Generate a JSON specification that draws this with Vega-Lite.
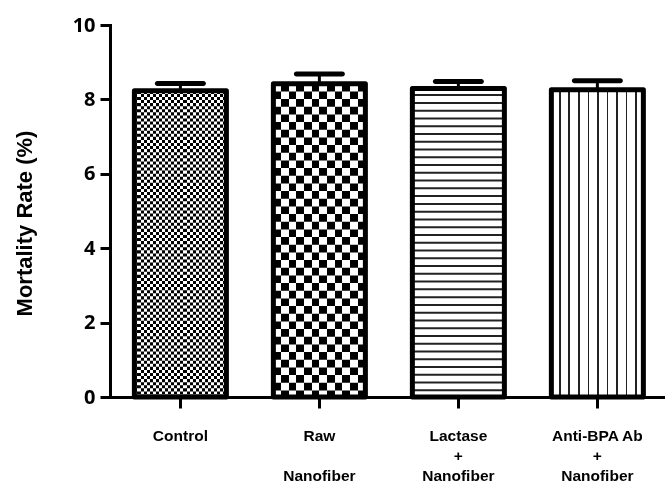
{
  "$schema": "https://vega.github.io/schema/vega-lite/v6.json",
  "width": 555,
  "height": 372,
  "autosize": {"type": "none"},
  "padding": {"left": 110, "top": 25, "right": 0, "bottom": 86},
  "background": "white",
  "config": {"view": {"stroke": null}},
  "data": {
    "values": [
      {"group": "Control", "mean": 8.23, "upper": 8.43},
      {"group": "Raw Nanofiber", "mean": 8.42, "upper": 8.68},
      {"group": "Lactase + Nanofiber", "mean": 8.29, "upper": 8.48},
      {"group": "Anti-BPA Ab + Nanofiber", "mean": 8.26, "upper": 8.5}
    ]
  },
  "encoding": {
    "x": {
      "field": "group",
      "type": "nominal",
      "sort": null,
      "scale": {"paddingInner": 0.338, "paddingOuter": 0.1655, "align": 0.53},
      "axis": {
        "title": null,
        "labelAngle": 0,
        "domainColor": "black",
        "domainWidth": 3,
        "tickColor": "black",
        "tickWidth": 3,
        "tickSize": 11,
        "labelFont": "Liberation Sans",
        "labelFontWeight": "bold",
        "labelFontSize": 15.5,
        "labelColor": "black",
        "labelPadding": 20,
        "labelLineHeight": 20,
        "labelExpr": "datum.value == 'Raw Nanofiber' ? ['Raw', '\u2800', 'Nanofiber'] : datum.value == 'Lactase + Nanofiber' ? ['Lactase', '+', 'Nanofiber'] : datum.value == 'Anti-BPA Ab + Nanofiber' ? ['Anti-BPA Ab', '+', 'Nanofiber'] : datum.value"
      }
    },
    "y": {
      "field": "mean",
      "type": "quantitative",
      "scale": {"domain": [0, 10], "nice": false},
      "axis": {
        "title": "Mortality Rate (%)",
        "titleFont": "Liberation Sans",
        "titleFontSize": 22,
        "titleFontWeight": "bold",
        "titleColor": "black",
        "titleX": -86,
        "titleY": 198,
        "titleBaseline": "middle",
        "titleAlign": "center",
        "values": [0, 2, 4, 6, 8, 10],
        "grid": false,
        "domainColor": "black",
        "domainWidth": 3,
        "domainCap": "square",
        "tickColor": "black",
        "tickWidth": 3,
        "tickSize": 10,
        "labelFont": "Open Sans",
        "labelFontWeight": "bold",
        "labelFontSize": 20,
        "labelColor": "black",
        "labelPadding": 5
      }
    }
  },
  "layer": [
    {"mark": {"type": "bar", "fill": "white"}},
    {
      "transform": [{"filter": "datum.group == 'Control'"}],
      "mark": {"type": "rule", "color": "black", "strokeWidth": 92, "strokeDash": [3.0667, 3.0667]},
      "encoding": {"y2": {"datum": 0}}
    },
    {
      "transform": [{"filter": "datum.group == 'Control'"}],
      "mark": {
        "type": "bar",
        "blend": "difference",
        "fill": {
          "gradient": "linear", "x1": 0, "y1": 0, "x2": 1, "y2": 0,
          "stops": [
            {"offset": 0, "color": "white"}, {"offset": 0.03333, "color": "white"}, {"offset": 0.03333, "color": "black"}, {"offset": 0.06667, "color": "black"},
            {"offset": 0.06667, "color": "white"}, {"offset": 0.1, "color": "white"}, {"offset": 0.1, "color": "black"}, {"offset": 0.13333, "color": "black"},
            {"offset": 0.13333, "color": "white"}, {"offset": 0.16667, "color": "white"}, {"offset": 0.16667, "color": "black"}, {"offset": 0.2, "color": "black"},
            {"offset": 0.2, "color": "white"}, {"offset": 0.23333, "color": "white"}, {"offset": 0.23333, "color": "black"}, {"offset": 0.26667, "color": "black"},
            {"offset": 0.26667, "color": "white"}, {"offset": 0.3, "color": "white"}, {"offset": 0.3, "color": "black"}, {"offset": 0.33333, "color": "black"},
            {"offset": 0.33333, "color": "white"}, {"offset": 0.36667, "color": "white"}, {"offset": 0.36667, "color": "black"}, {"offset": 0.4, "color": "black"},
            {"offset": 0.4, "color": "white"}, {"offset": 0.43333, "color": "white"}, {"offset": 0.43333, "color": "black"}, {"offset": 0.46667, "color": "black"},
            {"offset": 0.46667, "color": "white"}, {"offset": 0.5, "color": "white"}, {"offset": 0.5, "color": "black"}, {"offset": 0.53333, "color": "black"},
            {"offset": 0.53333, "color": "white"}, {"offset": 0.56667, "color": "white"}, {"offset": 0.56667, "color": "black"}, {"offset": 0.6, "color": "black"},
            {"offset": 0.6, "color": "white"}, {"offset": 0.63333, "color": "white"}, {"offset": 0.63333, "color": "black"}, {"offset": 0.66667, "color": "black"},
            {"offset": 0.66667, "color": "white"}, {"offset": 0.7, "color": "white"}, {"offset": 0.7, "color": "black"}, {"offset": 0.73333, "color": "black"},
            {"offset": 0.73333, "color": "white"}, {"offset": 0.76667, "color": "white"}, {"offset": 0.76667, "color": "black"}, {"offset": 0.8, "color": "black"},
            {"offset": 0.8, "color": "white"}, {"offset": 0.83333, "color": "white"}, {"offset": 0.83333, "color": "black"}, {"offset": 0.86667, "color": "black"},
            {"offset": 0.86667, "color": "white"}, {"offset": 0.9, "color": "white"}, {"offset": 0.9, "color": "black"}, {"offset": 0.93333, "color": "black"},
            {"offset": 0.93333, "color": "white"}, {"offset": 0.96667, "color": "white"}, {"offset": 0.96667, "color": "black"}, {"offset": 1, "color": "black"}
          ]
        }
      }
    },
    {
      "transform": [{"filter": "datum.group == 'Raw Nanofiber'"}],
      "mark": {"type": "rule", "color": "black", "strokeWidth": 92, "strokeDash": [7.667, 7.667]},
      "encoding": {"y2": {"datum": 0}}
    },
    {
      "transform": [{"filter": "datum.group == 'Raw Nanofiber'"}],
      "mark": {
        "type": "bar",
        "blend": "difference",
        "fill": {
          "gradient": "linear", "x1": 0, "y1": 0, "x2": 1, "y2": 0,
          "stops": [
            {"offset": 0, "color": "white"}, {"offset": 0.08333, "color": "white"}, {"offset": 0.08333, "color": "black"}, {"offset": 0.16667, "color": "black"},
            {"offset": 0.16667, "color": "white"}, {"offset": 0.25, "color": "white"}, {"offset": 0.25, "color": "black"}, {"offset": 0.33333, "color": "black"},
            {"offset": 0.33333, "color": "white"}, {"offset": 0.41667, "color": "white"}, {"offset": 0.41667, "color": "black"}, {"offset": 0.5, "color": "black"},
            {"offset": 0.5, "color": "white"}, {"offset": 0.58333, "color": "white"}, {"offset": 0.58333, "color": "black"}, {"offset": 0.66667, "color": "black"},
            {"offset": 0.66667, "color": "white"}, {"offset": 0.75, "color": "white"}, {"offset": 0.75, "color": "black"}, {"offset": 0.83333, "color": "black"},
            {"offset": 0.83333, "color": "white"}, {"offset": 0.91667, "color": "white"}, {"offset": 0.91667, "color": "black"}, {"offset": 1, "color": "black"}
          ]
        }
      }
    },
    {
      "transform": [{"filter": "datum.group == 'Lactase + Nanofiber'"}],
      "mark": {"type": "rule", "color": "#222", "strokeWidth": 92, "strokeDash": [2, 5.77], "strokeDashOffset": 2.27},
      "encoding": {"y2": {"datum": 0}}
    },
    {
      "transform": [{"filter": "datum.group == 'Anti-BPA Ab + Nanofiber'"}],
      "mark": {
        "type": "bar",
        "fill": {
          "gradient": "linear", "x1": 0, "y1": 0, "x2": 1, "y2": 0,
          "stops": [
            {"offset": 0, "color": "white"}, {"offset": 0.083, "color": "white"}, {"offset": 0.083, "color": "#222"}, {"offset": 0.101, "color": "#222"}, {"offset": 0.101, "color": "white"},
            {"offset": 0.186, "color": "white"}, {"offset": 0.186, "color": "#222"}, {"offset": 0.204, "color": "#222"}, {"offset": 0.204, "color": "white"},
            {"offset": 0.29, "color": "white"}, {"offset": 0.29, "color": "#222"}, {"offset": 0.308, "color": "#222"}, {"offset": 0.308, "color": "white"},
            {"offset": 0.393, "color": "white"}, {"offset": 0.393, "color": "#222"}, {"offset": 0.411, "color": "#222"}, {"offset": 0.411, "color": "white"},
            {"offset": 0.496, "color": "white"}, {"offset": 0.496, "color": "#222"}, {"offset": 0.514, "color": "#222"}, {"offset": 0.514, "color": "white"},
            {"offset": 0.6, "color": "white"}, {"offset": 0.6, "color": "#222"}, {"offset": 0.618, "color": "#222"}, {"offset": 0.618, "color": "white"},
            {"offset": 0.703, "color": "white"}, {"offset": 0.703, "color": "#222"}, {"offset": 0.721, "color": "#222"}, {"offset": 0.721, "color": "white"},
            {"offset": 0.806, "color": "white"}, {"offset": 0.806, "color": "#222"}, {"offset": 0.824, "color": "#222"}, {"offset": 0.824, "color": "white"},
            {"offset": 0.91, "color": "white"}, {"offset": 0.91, "color": "#222"}, {"offset": 0.928, "color": "#222"}, {"offset": 0.928, "color": "white"},
            {"offset": 1, "color": "white"}
          ]
        }
      }
    },
    {"mark": {"type": "bar", "fill": null, "fillOpacity": 0, "stroke": "black", "strokeWidth": 5, "strokeJoin": "round"}},
    {
      "mark": {"type": "rule", "color": "black", "strokeWidth": 3},
      "encoding": {"y2": {"field": "upper"}}
    },
    {
      "mark": {"type": "tick", "color": "black", "size": 51, "thickness": 5, "cornerRadius": 2.5, "opacity": 1},
      "encoding": {"y": {"field": "upper", "type": "quantitative"}}
    }
  ]
}
